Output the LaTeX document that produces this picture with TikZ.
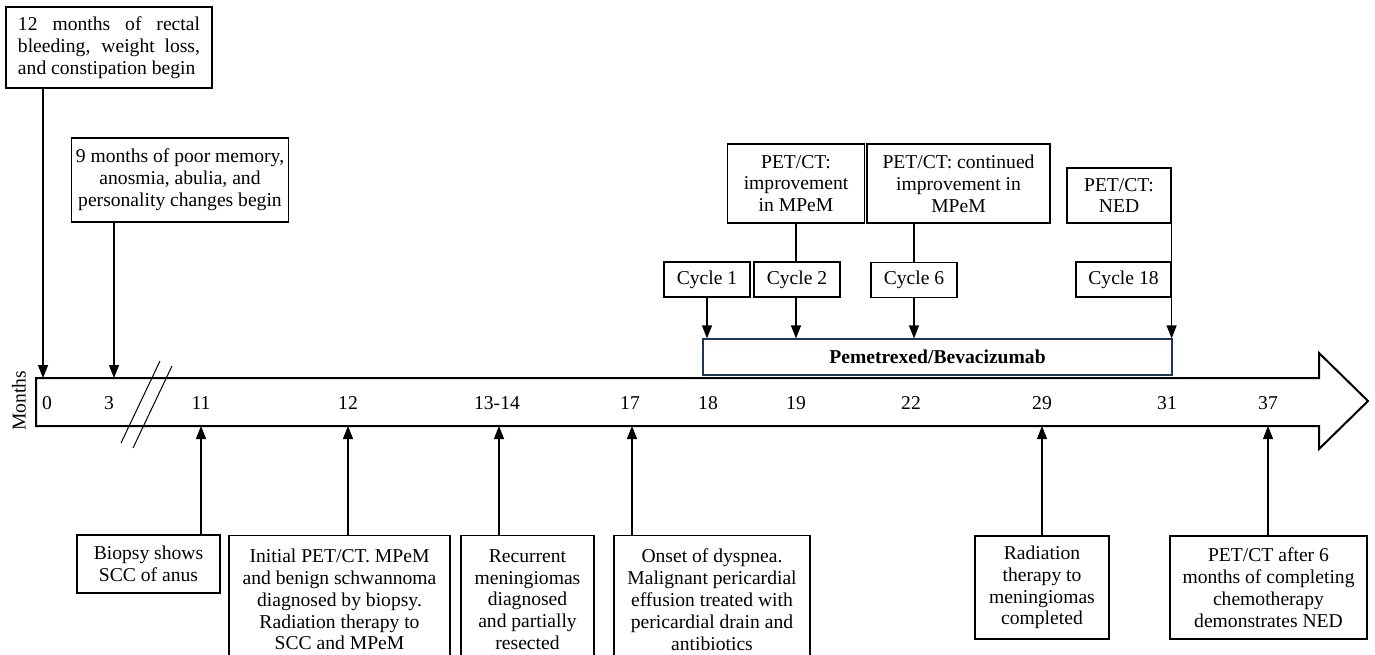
\documentclass[tikz,border=0pt]{standalone}
\usepackage{fontspec}
\setmainfont{Liberation Serif}
\usetikzlibrary{arrows.meta, positioning}
\definecolor{pemblue}{HTML}{1F3558}
\hyphenpenalty=10000
\exhyphenpenalty=10000

\begin{document}
\begin{tikzpicture}[x=0.5pt, y=-0.5pt,
  every node/.style={font=\fontsize{9.8}{10.9}\selectfont},
  event/.style={rectangle, draw, line width=0.6pt, align=center, inner sep=2pt},
  cyc/.style={event, minimum width=43pt, minimum height=17.5pt},
  cut/.style={event, anchor=north, minimum height=64pt},
  arrow/.style={-{Triangle[length=6.5pt, width=5pt]}, line width=0.6pt},
  link/.style={line width=0.6pt},
]
\clip (0,0) rectangle (1375,654);

% time axis
\draw[line width=1pt] (36,378) -- (1319,378) -- (1319,353) -- (1368,401)
  -- (1319,449) -- (1319,426) -- (36,426) -- cycle;
\draw[line width=0.5pt] (121,443) -- (160,361);
\draw[line width=0.5pt] (133,448) -- (172,366);
\node[rotate=90] (unit) at (19,401) {Months};
\foreach \x/\m in {47/0, 109/3, 201/11, 348/12, 497/13-14, 630/17, 708/18,
  796/19, 911/22, 1042/29, 1167/31, 1268/37}
  \node[inner sep=0pt] at (\x,403) {\m};

\coordinate (top0) at (43,378);
\coordinate (top3) at (114,378);
\coordinate (bot11) at (201,426);
\coordinate (bot12) at (348,426);
\coordinate (bot13) at (499,426);
\coordinate (bot17) at (632,426);
\coordinate (bot29) at (1042,426);
\coordinate (bot37) at (1268,426);

% symptoms before diagnosis
\node[event, text width=91pt, align=justify, inner xsep=6pt, minimum height=40.5pt]
  (rectal) at (109,47.5) {12 months of rectal bleeding, weight loss, and constipation begin};
\node[event, minimum width=105pt, minimum height=42pt] (memory) at (180,180)
  {9 months of poor memory,\\anosmia, abulia, and\\personality changes begin};
\draw[arrow] (rectal.south -| top0) -- (top0);
\draw[arrow] (memory.south -| top3) -- (top3);

% chemotherapy
\node[event, draw=pemblue, minimum width=234.5pt, minimum height=18pt, font=\fontsize{9.8}{10.9}\selectfont\bfseries]
  (pem) at (937.5,357) {Pemetrexed/Bevacizumab};
\node[cyc] (cyc1) at (707,279.5) {Cycle 1};
\node[cyc] (cyc2) at (797,279.5) {Cycle 2};
\node[cyc] (cyc6) at (914,280) {Cycle 6};
\node[cyc, minimum width=47.5pt] (cyc18) at (1123.5,279.5) {Cycle 18};
\node[event, minimum width=68.5pt, minimum height=39.5pt] (petA) at (796,183.5)
  {PET/CT:\\improvement\\in MPeM};
\node[event, minimum width=91.5pt, minimum height=39.5pt] (petB) at (958.5,183.5)
  {PET/CT: continued\\improvement in\\MPeM};
\node[event, minimum width=52pt, minimum height=27.5pt] (petC) at (1119,195.5)
  {PET/CT:\\NED};

\draw[arrow] (cyc1) -- (cyc1 |- pem.north);
\draw[link] (petA.south) -- (petA.south |- cyc2.north);
\draw[arrow] (cyc2.south -| petA) -- (pem.north -| petA);
\draw[link] (petB.south -| cyc6) -- (cyc6.north);
\draw[arrow] (cyc6) -- (cyc6 |- pem.north);
\draw[arrow] (petC.south east) -- (petC.south east |- pem.north);

% events below the axis
\node[event, minimum width=71.5pt, minimum height=29pt] (biopsy) at (148.5,564)
  {Biopsy shows\\SCC of anus};
\node[cut, minimum width=110.5pt] (initial) at (339.5,535)
  {Initial PET/CT. MPeM\\and benign schwannoma\\diagnosed by biopsy.\\Radiation therapy to\\SCC and MPeM};
\node[cut, minimum width=66.5pt] (recur) at (527.5,535)
  {Recurrent\\meningiomas\\diagnosed\\and partially\\resected};
\node[cut, minimum width=98pt] (onset) at (712,535)
  {Onset of dyspnea.\\Malignant pericardial\\effusion treated with\\pericardial drain and\\antibiotics};
\node[event, minimum width=67pt, minimum height=51.5pt] (radio) at (1042,587.5)
  {Radiation\\therapy to\\meningiomas\\completed};
\node[event, minimum width=98.5pt, minimum height=51.5pt] (petD) at (1268.5,587.5)
  {PET/CT after 6\\months of completing\\chemotherapy\\demonstrates NED};

\draw[arrow] (biopsy.north -| bot11) -- (bot11);
\draw[arrow] (initial.north -| bot12) -- (bot12);
\draw[arrow] (recur.north -| bot13) -- (bot13);
\draw[arrow] (onset.north -| bot17) -- (bot17);
\draw[arrow] (radio.north -| bot29) -- (bot29);
\draw[arrow] (petD.north -| bot37) -- (bot37);

\end{tikzpicture}
\end{document}
